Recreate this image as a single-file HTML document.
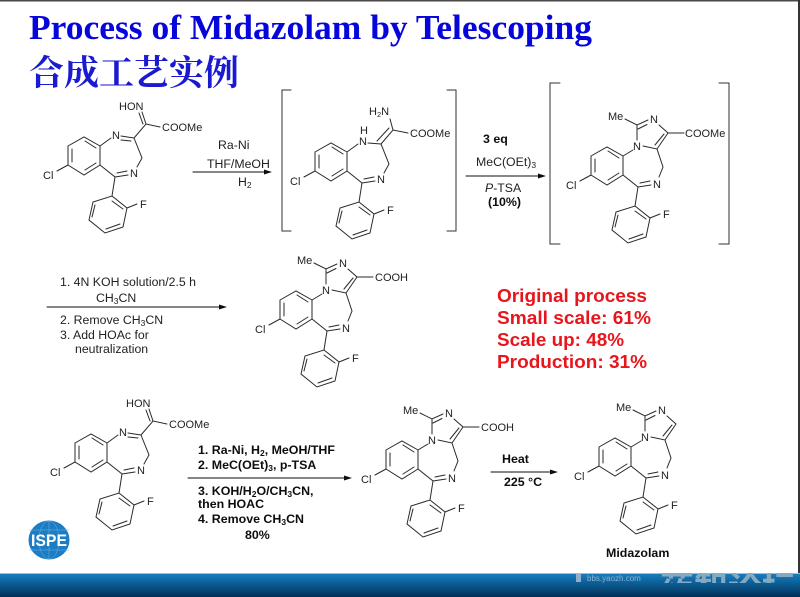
<!DOCTYPE html>
<html><head><meta charset="utf-8"><style>
html,body{margin:0;padding:0;background:#fff}
svg{display:block}
text{font-family:"Liberation Sans","Noto Sans CJK SC",sans-serif;fill:#222}
.l{font-size:11px}.t{font-size:12.3px}.b{font-size:12.4px;font-weight:bold;fill:#111}
.r{font-size:18.5px;font-weight:bold;fill:#e8141c}
.bond{stroke:#2a2a2a;stroke-width:1;fill:none;stroke-linecap:round}
</style></head><body>
<svg width="800" height="597" viewBox="0 0 800 597" xmlns="http://www.w3.org/2000/svg">
<defs>
<linearGradient id="ft" x1="0" y1="0" x2="0" y2="1">
<stop offset="0" stop-color="#1b7fc2"/><stop offset=".35" stop-color="#0d649f"/><stop offset="1" stop-color="#012f55"/>
</linearGradient>
<filter id="bl" x="-5%" y="-5%" width="110%" height="110%"><feGaussianBlur stdDeviation="0.3"/></filter>
<g id="benz" class="bond">
<path d="M68 146L84 137L100 146L100 165L84 175L68 165Z"/>
<path d="M72 149L72 162M85 141L96 148M96 163L85 170"/>
<path d="M68 165L57 171M100 165L115 177L112 196"/>
<path d="M112 196L127 208L123 227L105 233L89 220L93 202Z"/>
<path d="M112 201L123 209M120 224L106 229M92 217L95 205"/>
<path d="M127 208L137 204"/>
</g>
<g id="ring1" class="bond">
<path d="M100 146L111 138M121 136L134 138M121 140L131 141M134 138L142 158L137 167"/>
<path d="M128 175L115 177M127 171L117 173"/>
</g>
<g id="imid" class="bond">
<path d="M102 109L114 115L125 110M115 119L124 114.500M136 115L145 123L134 139L120 136M141 124L132 135"/>
<path d="M114 115L114 130M100 146L110 140M134 139L140 157L136 167"/>
<path d="M128 175L115 177M127 171L117 173"/>
</g>
<clipPath id="wm"><rect x="570" y="573" width="230" height="10"/></clipPath>
</defs>

<rect width="800" height="597" fill="#fff"/>
<rect x="0" y="0" width="800" height="1.500" fill="#4a4a4a"/>
<rect x="798" y="0" width="2" height="597" fill="#333"/>

<text x="29" y="39" style="font-family:'Liberation Serif',serif;font-weight:bold;font-size:35px;fill:#0606dc" textLength="563" lengthAdjust="spacingAndGlyphs">Process of Midazolam by Telescoping</text>
<text x="29" y="85" style="font-family:'Liberation Serif','Noto Serif CJK SC',serif;font-weight:bold;font-size:35px;fill:#1a1ad0">合成工艺实例</text>

<g filter="url(#bl)">
<!-- molecule 1 -->
<g>
<use href="#benz"/><use href="#ring1"/>
<path class="bond" d="M134 138L146 124L160 127M146 124L142 112M143 124L139 113"/>
<text class="l" x="119" y="110">HON</text>
<text class="l" x="162" y="131">COOMe</text>
<text class="l" x="112" y="139">N</text>
<text class="l" x="130" y="177">N</text>
<text class="l" x="43" y="179">Cl</text>
<text class="l" x="140" y="208">F</text>
</g>
<!-- molecule 2 -->
<g transform="translate(247,6)">
<use href="#benz"/>
<path class="bond" d="M100 146L111 138M121 137L134 138L142 158L137 167M128 175L115 177M127 171L117 173"/>
<path class="bond" d="M134 138L146 124L161 127M130 135L142 122M146 124L143 113"/>
<text class="l" x="122" y="109">H<tspan font-size="7.500" dy="2">2</tspan><tspan dy="-2">N</tspan></text>
<text class="l" x="163" y="131">COOMe</text>
<text class="l" x="112" y="139">N</text>
<text class="l" x="113" y="128">H</text>
<text class="l" x="130" y="177">N</text>
<text class="l" x="43" y="179">Cl</text>
<text class="l" x="140" y="208">F</text>
</g>
<!-- molecule 3 -->
<g transform="translate(523,10)">
<use href="#benz"/><use href="#imid"/>
<path class="bond" d="M145 123L161 123"/>
<text class="l" x="85" y="110">Me</text>
<text class="l" x="127" y="113">N</text>
<text class="l" x="110" y="140">N</text>
<text class="l" x="162" y="127">COOMe</text>
<text class="l" x="130" y="178">N</text>
<text class="l" x="43" y="179">Cl</text>
<text class="l" x="140" y="208">F</text>
</g>
<!-- molecule 4 -->
<g transform="translate(212,154)">
<use href="#benz"/><use href="#imid"/>
<path class="bond" d="M145 123L161 123"/>
<text class="l" x="85" y="110">Me</text>
<text class="l" x="127" y="113">N</text>
<text class="l" x="110" y="140">N</text>
<text class="l" x="163" y="127">COOH</text>
<text class="l" x="130" y="178">N</text>
<text class="l" x="43" y="179">Cl</text>
<text class="l" x="140" y="208">F</text>
</g>
<!-- molecule 5 -->
<g transform="translate(7,297)">
<use href="#benz"/><use href="#ring1"/>
<path class="bond" d="M134 138L146 124L160 127M146 124L142 112M143 124L139 113"/>
<text class="l" x="119" y="110">HON</text>
<text class="l" x="162" y="131">COOMe</text>
<text class="l" x="112" y="139">N</text>
<text class="l" x="130" y="177">N</text>
<text class="l" x="43" y="179">Cl</text>
<text class="l" x="140" y="208">F</text>
</g>
<!-- molecule 6 -->
<g transform="translate(318,304)">
<use href="#benz"/><use href="#imid"/>
<path class="bond" d="M145 123L161 123"/>
<text class="l" x="85" y="110">Me</text>
<text class="l" x="127" y="113">N</text>
<text class="l" x="110" y="140">N</text>
<text class="l" x="163" y="127">COOH</text>
<text class="l" x="130" y="178">N</text>
<text class="l" x="43" y="179">Cl</text>
<text class="l" x="140" y="208">F</text>
</g>
<!-- molecule 7 -->
<g transform="translate(531,301)">
<use href="#benz"/><use href="#imid"/>
<text class="l" x="85" y="110">Me</text>
<text class="l" x="127" y="113">N</text>
<text class="l" x="110" y="140">N</text>
<text class="l" x="130" y="178">N</text>
<text class="l" x="43" y="179">Cl</text>
<text class="l" x="140" y="208">F</text>
</g>

<!-- brackets -->
<path class="bond" style="stroke:#333" d="M291 90H282V231H291M447 90H456V231H447"/>
<path class="bond" style="stroke:#333" d="M560 83H550V244H560M719 83H729V244H719"/>

<!-- arrows -->
<g class="bond" style="stroke:#111">
<path d="M193 172H266M466 176H540M47 307H221M188 478H346M491 472H552"/>
</g>
<g fill="#111">
<path d="M272 172L264 169.500V174.500Z"/>
<path d="M546 176L538 173.500V178.500Z"/>
<path d="M227 307L219 304.500V309.500Z"/>
<path d="M352 478L344 475.500V480.500Z"/>
<path d="M558 472L550 469.500V474.500Z"/>
</g>

<!-- reaction labels -->
<text class="t" x="218" y="149">Ra-Ni</text>
<text class="t" x="207" y="168">THF/MeOH</text>
<text class="t" x="238" y="186">H<tspan font-size="8.500" dy="2">2</tspan></text>

<text class="b" x="483" y="143">3 eq</text>
<text class="t" x="476" y="166">MeC(OEt)<tspan font-size="8.500" dy="2">3</tspan></text>
<text class="t" x="485" y="192"><tspan font-style="italic">P</tspan>-TSA</text>
<text class="b" x="488" y="206">(10%)</text>

<text class="t" x="60" y="286">1. 4N KOH solution/2.5 h</text>
<text class="t" x="96" y="302">CH<tspan font-size="8.500" dy="2">3</tspan><tspan dy="-2">CN</tspan></text>
<text class="t" x="60" y="324">2. Remove CH<tspan font-size="8.500" dy="2">3</tspan><tspan dy="-2">CN</tspan></text>
<text class="t" x="60" y="339">3. Add HOAc for</text>
<text class="t" x="75" y="353">neutralization</text>

<text class="r" x="497" y="302" textLength="150" lengthAdjust="spacingAndGlyphs">Original process</text>
<text class="r" x="497" y="324" textLength="154" lengthAdjust="spacingAndGlyphs">Small scale: 61%</text>
<text class="r" x="497" y="346" textLength="127" lengthAdjust="spacingAndGlyphs">Scale up: 48%</text>
<text class="r" x="497" y="368" textLength="150" lengthAdjust="spacingAndGlyphs">Production: 31%</text>

<text class="b" x="198" y="454">1. Ra-Ni, H<tspan font-size="8.500" dy="2">2</tspan><tspan dy="-2">, MeOH/THF</tspan></text>
<text class="b" x="198" y="469">2. MeC(OEt)<tspan font-size="8.500" dy="2">3</tspan><tspan dy="-2">, p-TSA</tspan></text>
<text class="b" x="198" y="495">3. KOH/H<tspan font-size="8.500" dy="2">2</tspan><tspan dy="-2">O/CH</tspan><tspan font-size="8.500" dy="2">3</tspan><tspan dy="-2">CN,</tspan></text>
<text class="b" x="198" y="508">then HOAC</text>
<text class="b" x="198" y="523">4. Remove CH<tspan font-size="8.500" dy="2">3</tspan><tspan dy="-2">CN</tspan></text>
<text class="b" x="245" y="539">80%</text>

<text class="b" x="502" y="463">Heat</text>
<text class="b" x="504" y="486">225 °C</text>
<text class="b" x="606" y="557">Midazolam</text>
</g>

<!-- ISPE logo -->
<ellipse cx="49" cy="540" rx="20.500" ry="19.500" fill="#1c7cc4"/>
<g stroke="#6fb2e0" stroke-width=".5" fill="none">
<ellipse cx="49" cy="540" rx="10" ry="19"/><path d="M29 530H69M29 550H69M49 521V559"/>
</g>
<text x="49" y="546" text-anchor="middle" style="font-weight:bold;font-size:17px;fill:#fff" textLength="36" lengthAdjust="spacingAndGlyphs">ISPE</text>

<!-- footer -->
<rect x="0" y="573" width="800" height="24" fill="url(#ft)"/>
<rect x="0" y="573" width="800" height="1" fill="#8cc4e6"/>
<rect x="576" y="574" width="5" height="8" fill="#8fb0c8"/>
<text x="587" y="581" style="font-size:8px;fill:#8fb3cc">bbs.yaozh.com</text>
<g clip-path="url(#wm)">
<text x="660" y="600" style="font-size:34px;font-weight:bold;fill:#86a9c2">药智论坛</text>
</g>
</svg>
</body></html>
